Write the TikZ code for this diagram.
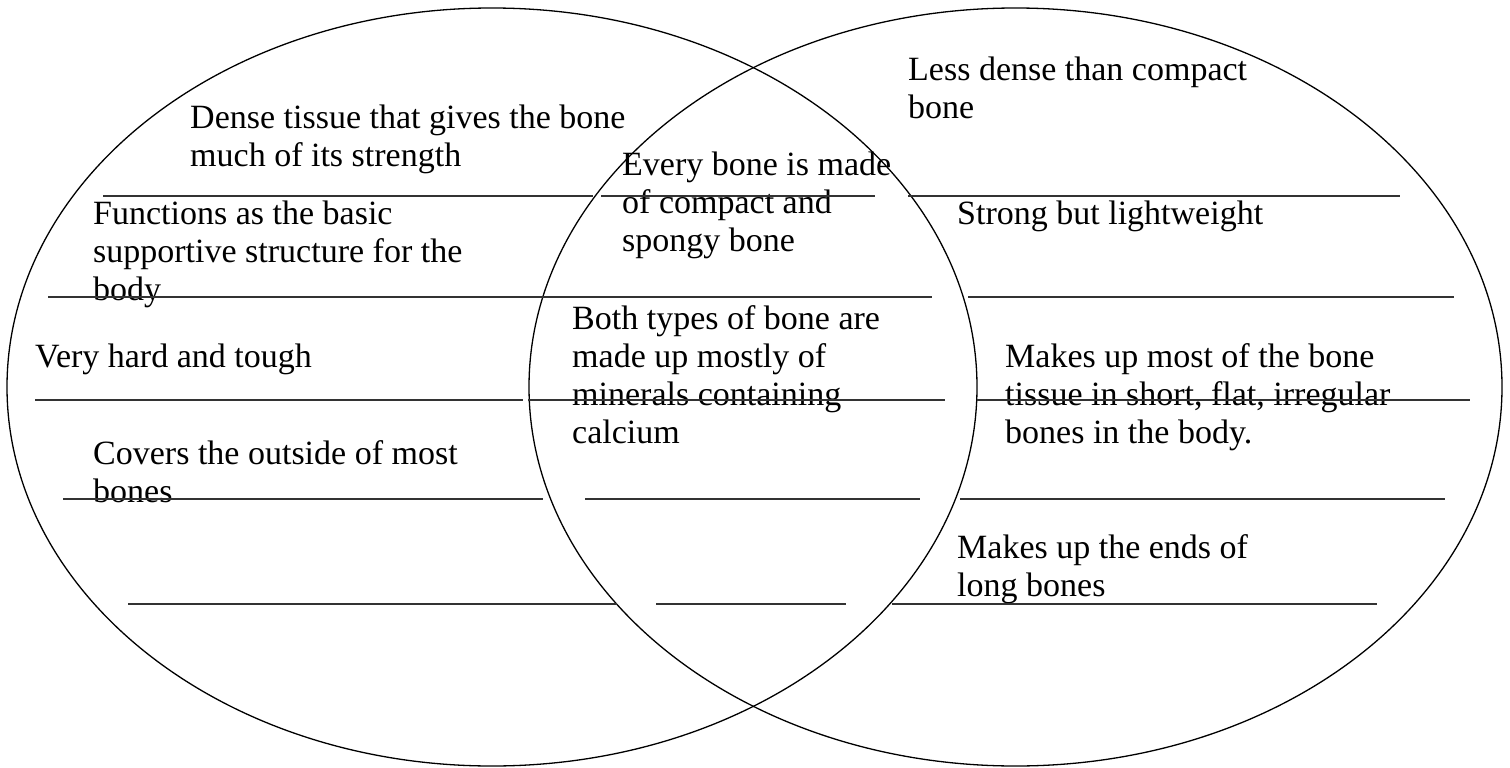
\documentclass[tikz,border=0pt]{standalone}
\usepackage{fontspec}
\setmainfont{Liberation Serif}
\usetikzlibrary{shapes.geometric}
\tikzset{
	vennset/.style={ellipse, draw, line width=1.3pt, inner sep=0pt, outer sep=0pt, minimum width=#1, minimum height=758pt},
	blank/.style={line width=1.8pt, draw=black!80},
	fact/.style={anchor=base west, align=left, inner sep=0pt, font=\fontsize{34}{38}\selectfont},
}
\begin{document}
\begin{tikzpicture}[x=1pt, y=-1pt]
	\useasboundingbox (0,0) rectangle (1510,768);
	% the two sets
	\node[vennset=970pt] (compact) at (492,387) {};
	\node[vennset=973pt] (spongy) at (1015.5,387) {};
	% compact bone only (placed by the baseline of the last line)
	\node[fact] (dense) at (190,166) {Dense tissue that gives the bone\\much of its strength};
	\node[fact] (support) at (93,300) {Functions as the basic\\supportive structure for the\\body};
	\node[fact] (hard) at (35,367) {Very hard and tough};
	\node[fact] (covers) at (93,502) {Covers the outside of most\\bones};
	% both
	\node[fact] (every) at (622,251) {Every bone is made\\of compact and\\spongy bone};
	\node[fact] (minerals) at (572,443) {Both types of bone are\\made up mostly of\\minerals containing\\calcium};
	% spongy bone only
	\node[fact] (less) at (908,118) {Less dense than compact\\bone};
	\node[fact] (light) at (957,224) {Strong but lightweight};
	\node[fact] (flat) at (1005,443) {Makes up most of the bone\\tissue in short, flat, irregular\\bones in the body.};
	\node[fact] (ends) at (957,596) {Makes up the ends of\\long bones};
	% answer blanks
	\foreach \y/\a/\b/\c/\d/\e/\f in {
		196/103/593/601/875/908/1400,
		297/48/545/538/932/968/1454,
		400/35/523/528/945/977/1470,
		499/63/543/585/920/960/1445,
		604/128/617/656/846/892/1377}
	{
		\draw[blank] (\a,\y) -- (\b,\y);
		\draw[blank] (\c,\y) -- (\d,\y);
		\draw[blank] (\e,\y) -- (\f,\y);
	}
\end{tikzpicture}
\end{document}
